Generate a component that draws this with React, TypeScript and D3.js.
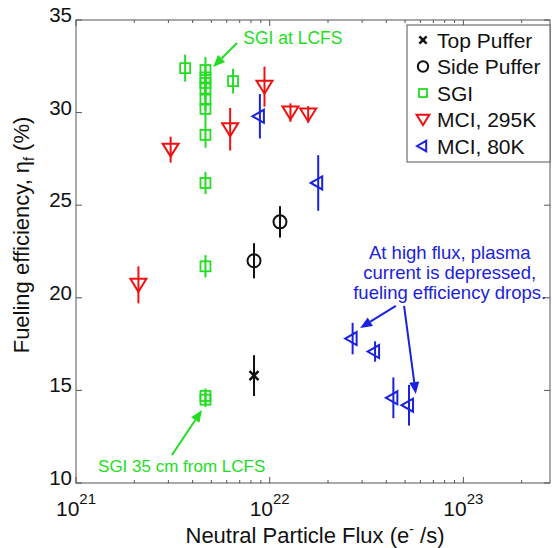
import React from 'react';
import * as d3 from 'd3';

const W = 552;
const H = 548;
const FONT = "'Liberation Sans', Arial, Helvetica, sans-serif";

// Top Puffer
const topFlux = [8.3e21];
const topEff = [15.8];
const topErr = [1.1];

// Side Puffer
const sideFlux = [8.3e21, 1.13e22];
const sideEff = [22.0, 24.1];
const sideErr = [0.95, 0.85];

// SGI
const sgiFlux = [3.66e21, 4.66e21, 4.66e21, 4.66e21, 4.66e21, 4.66e21, 4.66e21, 4.66e21, 4.66e21, 4.66e21, 4.66e21, 4.66e21, 6.47e21];
const sgiEff = [32.4, 32.3, 31.9, 31.6, 31.3, 30.7, 30.2, 28.8, 26.2, 21.7, 14.7, 14.5, 31.7];
const sgiErr = [0.73, 0.7, 0.6, 0.6, 0.6, 0.6, 0.7, 0.7, 0.6, 0.6, 0.4, 0.4, 0.67];

// MCI, 295K
const mci295Flux = [2.1e21, 3.08e21, 6.25e21, 9.4e21, 1.28e22, 1.58e22];
const mci295Eff = [20.7, 28.0, 29.1, 31.4, 30.0, 29.9];
const mci295Err = [1.0, 0.7, 1.15, 1.08, 0.5, 0.45];

// MCI, 80K
const mci80Flux = [8.9e21, 1.78e22, 2.68e22, 3.5e22, 4.35e22, 5.24e22];
const mci80Eff = [29.8, 26.2, 17.8, 17.1, 14.6, 14.2];
const mci80Err = [1.2, 1.5, 0.85, 0.55, 1.1, 1.1];

const legendLabels = ['Top Puffer', 'Side Puffer', 'SGI', 'MCI, 295K', 'MCI, 80K'];
const yTicks = [10, 15, 20, 25, 30, 35];
const xMajor = [1e21, 1e22, 1e23];

const GREEN = '#22dd22';
const RED = '#ee1111';
const BLUE = '#1a22dd';
const BLACK = '#111111';

const x = d3.scaleLog().domain([1e21, 2.8e23]).range([76, 550]);
const y = d3.scaleLinear().domain([10, 35]).range([483, 20]);

type Kind = 'x' | 'o' | 's' | 'v' | '<';

const Marker = ({ kind, cx, cy, color, s = 1 }: { kind: Kind; cx: number; cy: number; color: string; s?: number }) => {
  if (kind === 'x') {
    const r = 4.5 * s;
    return (
      <g stroke={color} strokeWidth={2.5}>
        <line x1={cx - r} y1={cy - r} x2={cx + r} y2={cy + r} />
        <line x1={cx - r} y1={cy + r} x2={cx + r} y2={cy - r} />
      </g>
    );
  }
  if (kind === 'o') return <circle cx={cx} cy={cy} r={6.5 * s} fill="none" stroke={color} strokeWidth={2} />;
  if (kind === 's') return <rect x={cx - 5 * s} y={cy - 5 * s} width={10 * s} height={10 * s} fill="none" stroke={color} strokeWidth={1.8} />;
  if (kind === 'v') {
    const p = [[-8, -6], [8, -6], [0, 7]].map(([a, b]) => `${cx + a * s},${cy + b * s}`).join(' ');
    return <polygon points={p} fill="none" stroke={color} strokeWidth={2} />;
  }
  const p = [[-7.5, 0], [4, -6.5], [4, 6.5]].map(([a, b]) => `${cx + a * s},${cy + b * s}`).join(' ');
  return <polygon points={p} fill="none" stroke={color} strokeWidth={2} />;
};

const Series = ({ flux, eff, err, kind, color }: { flux: number[]; eff: number[]; err: number[]; kind: Kind; color: string }) => (
  <g>
    {flux.map((f, i) => (
      <g key={i}>
        <line x1={x(f)} x2={x(f)} y1={y(eff[i] - err[i])} y2={y(eff[i] + err[i])} stroke={color} strokeWidth={2} />
        <Marker kind={kind} cx={x(f)} cy={y(eff[i])} color={color} />
      </g>
    ))}
  </g>
);

const Arrow = ({ from, to, color }: { from: [number, number]; to: [number, number]; color: string }) => {
  const x1 = x(from[0]), y1 = y(from[1]), x2 = x(to[0]), y2 = y(to[1]);
  const a = Math.atan2(y2 - y1, x2 - x1);
  const L = 12, hw = 5;
  const bx = x2 - L * Math.cos(a), by = y2 - L * Math.sin(a);
  const p = [
    [x2, y2],
    [bx + hw * Math.sin(a), by - hw * Math.cos(a)],
    [bx - hw * Math.sin(a), by + hw * Math.cos(a)],
  ].map((q) => q.join(',')).join(' ');
  return (
    <g>
      <line x1={x1} y1={y1} x2={bx} y2={by} stroke={color} strokeWidth={2} />
      <polygon points={p} fill={color} />
    </g>
  );
};

const App = () => {
  const [x0, x1] = x.range();
  const [y0, y1] = y.range();
  const minor = x.ticks().filter((t) => !xMajor.includes(t));
  const exp = (v: number) => Math.round(Math.log10(v));
  const legendKinds: Kind[] = ['x', 'o', 's', 'v', '<'];
  const legendColors = [BLACK, BLACK, GREEN, RED, BLUE];

  return (
    <svg width={W} height={H} style={{ position: 'absolute', left: 0, top: 0, background: '#fff' }} fontFamily={FONT}>
      {/* frame */}
      <rect x={x0} y={y1} width={x1 - x0} height={y0 - y1} fill="none" stroke="#555" strokeWidth={1} />
      {/* x ticks */}
      {minor.map((t) => (
        <g key={t} stroke="#555">
          <line x1={x(t)} x2={x(t)} y1={y0} y2={y0 - 3} />
          <line x1={x(t)} x2={x(t)} y1={y1} y2={y1 + 3} />
        </g>
      ))}
      {xMajor.map((t) => (
        <g key={t}>
          <line x1={x(t)} x2={x(t)} y1={y0} y2={y0 - 6} stroke="#555" />
          <line x1={x(t)} x2={x(t)} y1={y1} y2={y1 + 6} stroke="#555" />
          <text x={x(t)} y={516} textAnchor="middle" fontSize={21} fill={BLACK}>
            10<tspan dy={-12} fontSize={15}>{exp(t)}</tspan>
          </text>
        </g>
      ))}
      {/* y ticks */}
      {yTicks.map((t) => (
        <g key={t}>
          <line x1={x0} x2={x0 + 6} y1={y(t)} y2={y(t)} stroke="#555" />
          <line x1={x1} x2={x1 - 6} y1={y(t)} y2={y(t)} stroke="#555" />
          <text x={72} y={y(t) + 2} textAnchor="end" fontSize={20.5} fill={BLACK}>{t}</text>
        </g>
      ))}
      {/* axis titles */}
      <text x={315} y={543} textAnchor="middle" fontSize={22} fill={BLACK}>
        Neutral Particle Flux (e<tspan dy={-9} fontSize={14}>-</tspan><tspan dy={9}> /s)</tspan>
      </text>
      <text transform="translate(29,235) rotate(-90)" textAnchor="middle" fontSize={22} fill={BLACK}>
        Fueling efficiency, η<tspan dy={5} fontSize={14}>f</tspan><tspan dy={-5}> (%)</tspan>
      </text>

      {/* data */}
      <Series flux={sgiFlux} eff={sgiEff} err={sgiErr} kind="s" color={GREEN} />
      <Series flux={mci295Flux} eff={mci295Eff} err={mci295Err} kind="v" color={RED} />
      <Series flux={mci80Flux} eff={mci80Eff} err={mci80Err} kind="<" color={BLUE} />
      <Series flux={sideFlux} eff={sideEff} err={sideErr} kind="o" color={BLACK} />
      <Series flux={topFlux} eff={topEff} err={topErr} kind="x" color={BLACK} />

      {/* annotations */}
      <text x={x(7.3e21)} y={y(34.03) + 6} fontSize={17.5} fill={GREEN}>SGI at LCFS</text>
      <Arrow from={[6.78e21, 33.76]} to={[5.1e21, 32.46]} color={GREEN} />
      <text x={x(1.3e21)} y={y(10.9) + 6} fontSize={17} fill={GREEN}>SGI 35 cm from LCFS</text>
      <Arrow from={[3.13e21, 11.51]} to={[4.47e21, 13.94]} color={GREEN} />
      <g fill={BLUE} fontSize={18.5} textAnchor="middle">
        <text x={x(8.5e22)} y={y(22.42) + 6}>At high flux, plasma</text>
        <text x={x(8.5e22)} y={y(21.34) + 6}>current is depressed,</text>
        <text x={x(8.5e22)} y={y(20.26) + 6}>fueling efficiency drops.</text>
      </g>
      <Arrow from={[4.48e22, 19.56]} to={[2.93e22, 18.37]} color={BLUE} />
      <Arrow from={[4.94e22, 19.56]} to={[5.68e22, 14.8]} color={BLUE} />

      {/* legend */}
      <rect x={407} y={25} width={143} height={137} fill="#fff" stroke="#555" strokeWidth={1} />
      {legendLabels.map((lab, i) => (
        <g key={lab}>
          <Marker kind={legendKinds[i]} cx={423} cy={40 + i * 26.5} color={legendColors[i]} s={0.8} />
          <text x={437} y={40 + i * 26.5 + 7.5} fontSize={21} fill={BLACK}>{lab}</text>
        </g>
      ))}
    </svg>
  );
};

export default App;
